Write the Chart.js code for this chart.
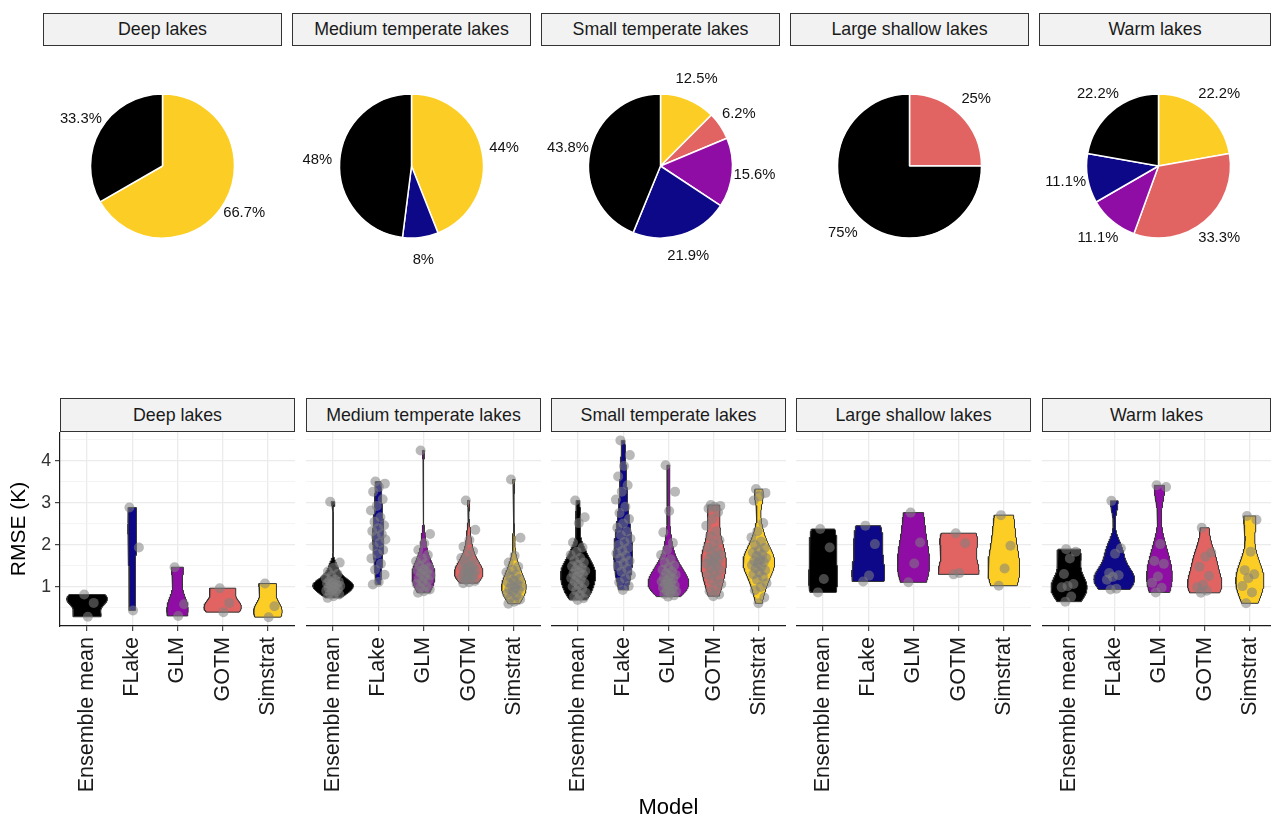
<!DOCTYPE html>
<html>
<head>
<meta charset="utf-8">
<script src="https://cdn.jsdelivr.net/npm/chart.js@4/dist/chart.umd.min.js"></script>
<style>
  html, body { margin: 0; padding: 0; background: #fff; width: 1271px; height: 819px; overflow: hidden;
    font-family: "Liberation Sans", Arial, sans-serif; }
  .strip { position: absolute; box-sizing: border-box; border: 1.3px solid #333; background: #f2f2f2;
    color: #1a1a1a; font-size: 17.8px; display: flex; align-items: center; justify-content: center; white-space: nowrap; overflow: hidden; }
  .box { position: absolute; }
  .box canvas { display: block; }
</style>
</head>
<body>
<script>
// ---- data ---------------------------------------------------------------
const models = ['Ensemble mean', 'FLake', 'GLM', 'GOTM', 'Simstrat'];
const lakeGroups = ['Deep lakes', 'Medium temperate lakes', 'Small temperate lakes', 'Large shallow lakes', 'Warm lakes'];
const modelColors = ['#000000', '#0D0887', '#8F0DA4', '#E16462', '#FCCE25'];

// share of lakes (%) where each model is best, in `models` order
const shareDeep   = [33.3, 0, 0, 0, 66.7];
const shareMedium = [48, 8, 0, 0, 44];
const shareSmall  = [43.8, 21.9, 15.6, 6.2, 12.5];
const shareLarge  = [75, 0, 0, 25, 0];
const shareWarm   = [22.2, 11.1, 11.1, 33.3, 22.2];

// RMSE (K) per lake, one list per model in `models` order
const rmseDeep = [
  [0.82, 0.62, 0.29],
  [2.89, 1.94, 0.44],
  [1.47, 0.59, 0.31],
  [0.97, 0.62, 0.40],
  [1.08, 0.54, 0.28]
];
const rmseMedium = [
  [3.03, 1.58, 1.46, 1.37, 1.31, 1.26, 1.21, 1.17, 1.14, 1.12, 1.10, 1.08, 1.06, 1.04, 1.02, 1.00, 0.98, 0.96, 0.93, 0.91, 0.88, 0.85, 0.82, 0.78, 0.74],
  [3.51, 3.46, 3.38, 3.27, 3.09, 2.93, 2.82, 2.66, 2.55, 2.47, 2.40, 2.33, 2.26, 2.20, 2.13, 2.05, 1.97, 1.88, 1.79, 1.68, 1.55, 1.41, 1.29, 1.12, 1.06],
  [4.25, 2.26, 2.04, 1.88, 1.76, 1.68, 1.61, 1.55, 1.50, 1.46, 1.42, 1.39, 1.35, 1.32, 1.28, 1.24, 1.20, 1.16, 1.12, 1.07, 1.02, 0.98, 0.94, 0.90, 0.86],
  [3.06, 2.36, 2.12, 1.96, 1.85, 1.76, 1.69, 1.63, 1.58, 1.54, 1.50, 1.47, 1.44, 1.41, 1.38, 1.35, 1.32, 1.29, 1.26, 1.23, 1.20, 1.17, 1.14, 1.11, 1.09],
  [3.56, 2.17, 1.74, 1.58, 1.48, 1.41, 1.35, 1.29, 1.24, 1.19, 1.15, 1.11, 1.07, 1.04, 1.01, 0.98, 0.95, 0.92, 0.88, 0.84, 0.80, 0.75, 0.70, 0.65, 0.60]
];
const rmseSmall = [
  [3.06, 2.66, 2.52, 2.06, 1.94, 1.84, 1.76, 1.69, 1.63, 1.58, 1.53, 1.49, 1.45, 1.41, 1.38, 1.35, 1.32, 1.29, 1.25, 1.21, 1.17, 1.13, 1.09, 1.05, 1.01, 0.96, 0.91, 0.86, 0.81, 0.77, 0.73, 0.69],
  [4.49, 4.14, 3.88, 3.63, 3.42, 3.27, 3.08, 2.91, 2.76, 2.62, 2.51, 2.41, 2.32, 2.23, 2.15, 2.07, 2.00, 1.93, 1.86, 1.80, 1.74, 1.68, 1.62, 1.56, 1.50, 1.43, 1.36, 1.28, 1.20, 1.11, 1.02, 0.93],
  [3.90, 3.27, 2.81, 2.30, 2.05, 1.88, 1.76, 1.66, 1.58, 1.51, 1.46, 1.41, 1.37, 1.33, 1.29, 1.25, 1.22, 1.19, 1.16, 1.13, 1.10, 1.07, 1.04, 1.01, 0.98, 0.95, 0.92, 0.89, 0.86, 0.83, 0.80, 0.77],
  [2.95, 2.93, 2.91, 2.87, 2.78, 2.62, 2.46, 2.32, 2.21, 2.11, 2.02, 1.94, 1.87, 1.81, 1.76, 1.71, 1.67, 1.63, 1.59, 1.55, 1.51, 1.46, 1.41, 1.35, 1.29, 1.22, 1.15, 1.07, 0.99, 0.90, 0.82, 0.78],
  [3.33, 3.24, 3.16, 3.06, 2.52, 2.32, 2.18, 2.08, 2.00, 1.93, 1.87, 1.82, 1.77, 1.73, 1.69, 1.65, 1.62, 1.59, 1.56, 1.52, 1.48, 1.44, 1.40, 1.35, 1.30, 1.24, 1.17, 1.09, 1.00, 0.92, 0.75, 0.61]
];
const rmseLarge = [
  [2.38, 1.94, 1.19, 0.87],
  [2.46, 2.02, 1.27, 1.13],
  [2.77, 2.06, 1.56, 1.11],
  [2.28, 2.04, 1.33, 1.30],
  [2.71, 1.98, 1.44, 1.03]
];
const rmseWarm = [
  [1.90, 1.84, 1.68, 1.31, 1.07, 1.02, 0.99, 0.77, 0.65],
  [3.05, 1.92, 1.79, 1.33, 1.28, 1.24, 1.17, 0.96, 0.94],
  [3.42, 3.38, 2.02, 1.62, 1.55, 1.25, 1.10, 0.98, 0.87],
  [2.41, 1.82, 1.72, 1.48, 1.26, 1.05, 0.99, 0.91, 0.86],
  [2.69, 2.60, 1.84, 1.40, 1.30, 1.21, 1.02, 0.87, 0.61]
];

const rmseTicks = [0.5, 1, 1.5, 2, 2.5, 3, 3.5, 4, 4.5];

const shares = [shareDeep, shareMedium, shareSmall, shareLarge, shareWarm];
const rmse = [rmseDeep, rmseMedium, rmseSmall, rmseLarge, rmseWarm];

// ---- layout -------------------------------------------------------------
const FONT = '"Liberation Sans", Arial, sans-serif';
Chart.defaults.font.family = FONT;

const PAGE_W = 1271;
const PIE_LEFT = 43, PIE_STEP = 249, PIE_W = 239;
const VIO_LEFT = [60, 306, 551, 796, 1042], VIO_W = 235;
const VIO_TOP = 432, VIO_H = 194, CANVAS_H = 819 - VIO_TOP, X_AXIS_H = CANVAS_H - VIO_H, Y_AXIS_W = 60;

function addBox(left, top, width, height) {
  const box = document.createElement('div');
  box.className = 'box';
  Object.assign(box.style, { left: left + 'px', top: top + 'px', width: width + 'px', height: height + 'px' });
  const cv = document.createElement('canvas');
  cv.width = width; cv.height = height;
  cv.style.width = width + 'px'; cv.style.height = height + 'px';
  box.appendChild(cv);
  document.body.appendChild(box);
  return cv;
}
function addStrip(text, left, top, width, height) {
  const s = document.createElement('div');
  s.className = 'strip';
  const w = Math.min(width, PAGE_W - left);
  Object.assign(s.style, { left: left + 'px', top: top + 'px', width: w + 'px', height: height + 'px' });
  s.textContent = text;
  document.body.appendChild(s);
}

// ---- pies ---------------------------------------------------------------
const pieLabels = {
  id: 'pieLabels',
  afterDatasetsDraw(chart) {
    const ctx = chart.ctx;
    const meta = chart.getDatasetMeta(0);
    const values = chart.data.datasets[0].data;
    ctx.save();
    ctx.font = '14.8px ' + FONT;
    ctx.fillStyle = '#111';
    ctx.textAlign = 'center';
    ctx.textBaseline = 'middle';
    meta.data.forEach((arc, i) => {
      const p = arc.getProps(['x', 'y', 'startAngle', 'endAngle', 'outerRadius'], true);
      const mid = (p.startAngle + p.endAngle) / 2;
      const r = p.outerRadius * 1.31;
      ctx.fillText(values[i] + '%', p.x + Math.cos(mid) * r, p.y + Math.sin(mid) * r);
    });
    ctx.restore();
  }
};

lakeGroups.forEach((g, gi) => {
  const left = PIE_LEFT + gi * PIE_STEP;
  addStrip(g, left, 13, PIE_W, 33);
  // slices run clockwise from 12 o'clock, last model first
  const order = [4, 3, 2, 1, 0].filter(m => shares[gi][m] > 0);
  const cv = addBox(left, 61, PIE_W, 210);
  new Chart(cv, {
    type: 'pie',
    data: {
      labels: order.map(m => models[m]),
      datasets: [{
        data: order.map(m => shares[gi][m]),
        backgroundColor: order.map(m => modelColors[m]),
        borderColor: '#ffffff',
        borderWidth: 1.5,
        radius: 72
      }]
    },
    options: {
      responsive: false, animation: false, events: [],
      layout: { padding: 0 },
      plugins: { legend: { display: false }, tooltip: { enabled: false } }
    },
    plugins: [pieLabels]
  });
});

// ---- violins ------------------------------------------------------------
function bwNrd0(x) {
  const n = x.length;
  const s = [...x].sort((a, b) => a - b);
  const mean = s.reduce((a, b) => a + b, 0) / n;
  const sd = Math.sqrt(s.reduce((a, b) => a + (b - mean) * (b - mean), 0) / (n - 1));
  const q = p => { const h = (n - 1) * p, lo = Math.floor(h); return s[lo] + (h - lo) * (s[Math.min(lo + 1, n - 1)] - s[lo]); };
  let lo = Math.min(sd, (q(0.75) - q(0.25)) / 1.34);
  if (!(lo > 0)) lo = sd || Math.abs(s[0]) || 1;
  return 0.9 * lo * Math.pow(n, -0.2);
}
// gaussian kernel density over the data range (trimmed violin)
function density(x, steps) {
  const bw = bwNrd0(x);
  const mn = Math.min(...x), mx = Math.max(...x);
  const norm = x.length * bw * Math.sqrt(2 * Math.PI);
  const out = [];
  for (let i = 0; i <= steps; i++) {
    const y = mn + (mx - mn) * i / steps;
    let d = 0;
    for (const v of x) { const z = (y - v) / bw; d += Math.exp(-0.5 * z * z); }
    out.push({ y, d: d / norm });
  }
  return out;
}
const jitter = k => (((k * 0.618034 + 0.31) % 1) - 0.5) * 0.34;

lakeGroups.forEach((g, gi) => {
  const first = gi === 0;
  const left = VIO_LEFT[gi];
  addStrip(g, left, 398, VIO_W, 34);

  const dens = rmse[gi].map(vals => density(vals, 200));
  const maxD = Math.max(...dens.map(dd => Math.max(...dd.map(p => p.d))));

  const datasets = [];
  rmse[gi].forEach((vals, m) => {
    datasets.push({
      type: 'scatter', order: 0,
      data: vals.map((v, k) => ({ x: m + 1 + jitter(k), y: v })),
      pointRadius: 5, pointHoverRadius: 5, pointBorderWidth: 0,
      pointBackgroundColor: 'rgba(128,128,128,0.55)'
    });
  });
  dens.forEach((dd, m) => {
    const hw = p => p.d / maxD * 0.45;
    const right = dd.map(p => ({ x: m + 1 + hw(p), y: p.y }));
    const leftSide = dd.slice().reverse().map(p => ({ x: m + 1 - hw(p), y: p.y }));
    datasets.push({
      type: 'line', order: 1,
      data: [...right, ...leftSide, right[0]],
      fill: 'shape', backgroundColor: modelColors[m],
      borderColor: '#333333', borderWidth: 1, pointRadius: 0, tension: 0
    });
  });

  const width = first ? Y_AXIS_W + VIO_W : VIO_W;
  const cv = addBox(first ? 0 : left, VIO_TOP, width, CANVAS_H);
  new Chart(cv, {
    type: 'scatter',
    data: { datasets },
    options: {
      responsive: false, animation: false, events: [],
      layout: { padding: 0, autoPadding: false },
      plugins: { legend: { display: false }, tooltip: { enabled: false } },
      scales: {
        x: {
          type: 'linear', min: 0.4, max: 5.6,
          afterBuildTicks: s => { s.ticks = models.map((_, i) => ({ value: i + 1 })); },
          afterFit: s => { s.height = X_AXIS_H; s.paddingLeft = 0; s.paddingRight = 0; },
          ticks: {
            autoSkip: false, minRotation: 90, maxRotation: 90, padding: 6,
            color: '#1a1a1a', font: { size: 21.5, family: FONT },
            callback: v => models[v - 1]
          },
          grid: { color: '#ebebeb', lineWidth: 1.3, tickColor: '#333', tickLength: 5, tickWidth: 1.1 },
          border: { display: true, color: '#1a1a1a', width: 1.2 },
          title: gi === 2
            ? { display: true, text: 'Model', color: '#000', font: { size: 22, family: FONT, lineHeight: 1 }, padding: { top: 0, bottom: 0 } }
            : { display: false }
        },
        y: {
          type: 'linear', min: 0.07, max: 4.69,
          afterBuildTicks: s => { s.ticks = rmseTicks.map(v => ({ value: v })); },
          afterFit: s => { s.width = first ? Y_AXIS_W : 0; s.paddingTop = 0; s.paddingBottom = 0; },
          ticks: {
            display: first, autoSkip: false, padding: 4, color: '#333', font: { size: 17.7, family: FONT },
            callback: v => Number.isInteger(v) ? String(v) : ''
          },
          grid: {
            color: c => Number.isInteger(c.tick.value) ? '#ebebeb' : '#f1f1f1',
            lineWidth: c => Number.isInteger(c.tick.value) ? 1.3 : 0.8,
            drawTicks: first, tickLength: 5, tickWidth: 1.1,
            tickColor: c => Number.isInteger(c.tick.value) ? '#333' : 'rgba(0,0,0,0)'
          },
          border: { display: first, color: '#1a1a1a', width: 1.2 },
          title: first
            ? { display: true, text: 'RMSE (K)', color: '#000', font: { size: 21, family: FONT, lineHeight: 1.2 }, padding: { top: 7, bottom: 0 } }
            : { display: false }
        }
      }
    }
  });
});
</script>
</body>
</html>
